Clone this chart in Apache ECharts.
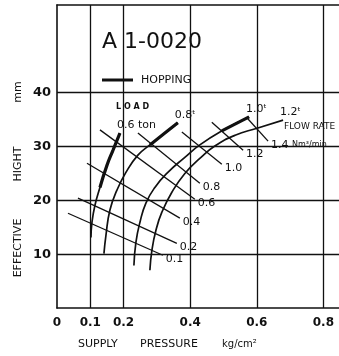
<!DOCTYPE html>
<html>
<head>
<meta charset="utf-8">
<script src="https://cdn.jsdelivr.net/npm/echarts@6/dist/echarts.min.js"></script>
<style>
  html, body { margin: 0; padding: 0; background: #fff; }
  #chart { width: 339px; height: 356px; }
</style>
</head>
<body>
<div id="chart"></div>
<script>
// axis ticks / grid lines
const xTickLabels = [0, 0.1, 0.2, 0.4, 0.6, 0.8]
const yTickLabels = [10, 20, 30, 40]
const xGridLines = [0.1, 0.2, 0.4, 0.6, 0.8]
const yGridLines = [10, 20, 30, 40]

// load curves (supply pressure, effective height), bottom -> top
const loadNames = ['0.6 ton', '0.8ᵗ', '1.0ᵗ', '1.2ᵗ']
const load06 = [[0.102, 13.1], [0.105, 15.9], [0.114, 19.1], [0.129, 22.4], [0.150, 26.5], [0.168, 29.3], [0.189, 32.5]]
const load08 = [[0.141, 10.1], [0.147, 13.5], [0.159, 18.2], [0.180, 21.9], [0.207, 25.2], [0.243, 28.4], [0.279, 30.3], [0.324, 32.5], [0.363, 34.4]]
const load10 = [[0.231, 7.9], [0.237, 12.2], [0.249, 15.9], [0.267, 19.5], [0.294, 22.4], [0.333, 25.2], [0.384, 28.0], [0.429, 30.3], [0.495, 32.9], [0.577, 35.5]]
const load12 = [[0.279, 7.0], [0.285, 10.7], [0.297, 14.4], [0.315, 17.8], [0.345, 21.5], [0.384, 25.0], [0.429, 27.8], [0.474, 30.1], [0.535, 32.1], [0.601, 33.4], [0.679, 34.9]]
// index on each load curve where hopping starts (to the top end)
const hoppingFrom = [3, 6, 8, null]

// flow rate lines Nm3/min
const flowNames = ['0.1', '0.2', '0.4', '0.6', '0.8', '1.0', '1.2', '1.4 Nm³/min']
const flow01 = [[0.033, 17.6], [0.318, 9.8]]
const flow02 = [[0.063, 20.4], [0.360, 12.0]]
const flow04 = [[0.090, 26.9], [0.369, 16.7]]
const flow06 = [[0.129, 33.1], [0.414, 20.2]]
const flow08 = [[0.243, 32.5], [0.429, 23.2]]
const flow10 = [[0.375, 32.7], [0.495, 26.7]]
const flow12 = [[0.465, 34.5], [0.559, 29.3]]
const flow14 = [[0.571, 35.3], [0.634, 31.0]]

const loads = [load06, load08, load10, load12]
const flows = [flow01, flow02, flow04, flow06, flow08, flow10, flow12, flow14]

const FONT = 'DejaVu Sans'
const INK = '#111'

const chart = echarts.init(document.getElementById('chart'))

const series = []

// grid lines
series.push({
  type: 'line',
  data: [],
  silent: true,
  markLine: {
    silent: true,
    symbol: 'none',
    label: { show: false },
    lineStyle: { color: INK, width: 1.3, type: 'solid' },
    data: [
      ...xGridLines.map((v) => ({ xAxis: v })),
      ...yGridLines.map((v) => ({ yAxis: v })),
    ],
  },
})

loads.forEach((pts, i) => {
  series.push({
    name: loadNames[i],
    type: 'line',
    data: pts,
    smooth: true,
    showSymbol: false,
    lineStyle: { color: INK, width: 1.7 },
    endLabel: {
      show: true,
      formatter: '{a}',
      color: INK,
      fontFamily: FONT,
      fontSize: 11,
      align: 'left',
      distance: 0,
      offset: [-3, -8],
    },
  })
  if (hoppingFrom[i] != null) {
    series.push({
      type: 'line',
      data: pts.slice(hoppingFrom[i]),
      smooth: true,
      showSymbol: false,
      lineStyle: { color: INK, width: 3.2 },
    })
  }
})

flows.forEach((pts, i) => {
  series.push({
    name: flowNames[i],
    type: 'line',
    data: pts,
    showSymbol: false,
    lineStyle: { color: INK, width: 1.3 },
    endLabel: {
      show: true,
      formatter: (p) => {
        const [v, ...unit] = p.seriesName.split(' ')
        return unit.length ? v + ' {u|' + unit.join(' ') + '}' : v
      },
      color: INK,
      fontFamily: FONT,
      fontSize: 11,
      distance: 3,
      offset: [0, 4],
      rich: { u: { fontFamily: FONT, fontSize: 8, color: INK } },
    },
  })
})

const option = {
  backgroundColor: '#fff',
  animation: false,
  grid: { left: 57, top: 5, right: 0, bottom: 48 },
  xAxis: [
    {
      type: 'value',
      min: 0,
      max: 0.847,
      interval: 0.1,
      axisLine: { show: true, lineStyle: { color: INK, width: 1.6 } },
      axisTick: { show: false },
      splitLine: { show: false },
      axisLabel: {
        color: INK,
        fontFamily: FONT,
        fontSize: 12,
        fontWeight: 'bold',
        margin: 9,
        formatter: (v) => {
          const s = +v.toFixed(1)
          return xTickLabels.includes(s) ? (s === 0 ? '0' : s.toFixed(1)) : ''
        },
      },
    },
    {
      type: 'value',
      position: 'top',
      min: 0,
      max: 0.847,
      axisLine: { show: true, lineStyle: { color: INK, width: 1.6 } },
      axisTick: { show: false },
      axisLabel: { show: false },
      splitLine: { show: false },
    },
  ],
  yAxis: {
    type: 'value',
    min: 0,
    max: 56.3,
    interval: 10,
    axisLine: { show: true, lineStyle: { color: INK, width: 1.6 } },
    axisTick: { show: false },
    splitLine: { show: false },
    axisLabel: {
      color: INK,
      fontFamily: FONT,
      fontSize: 13,
      fontWeight: 'bold',
      margin: 6,
      formatter: (v) => (yTickLabels.includes(Math.round(v)) && Math.abs(v - Math.round(v)) < 1e-6 ? String(v) : ''),
    },
  },
  graphic: [
    { type: 'text', left: 102, top: 31, style: { text: 'A 1-0020', font: '22px "DejaVu Sans"', fill: INK } },
    { type: 'line', shape: { x1: 102, y1: 80, x2: 133, y2: 80 }, style: { stroke: INK, lineWidth: 3 } },
    { type: 'text', left: 141, top: 75, style: { text: 'HOPPING', font: '11px "DejaVu Sans"', fill: INK } },
    { type: 'text', left: 116, top: 103, style: { text: 'L O A D', font: 'bold 8px "DejaVu Sans"', fill: INK } },
    { type: 'text', left: 284, top: 122, style: { text: 'FLOW RATE', font: '9px "DejaVu Sans"', fill: INK } },
    { type: 'text', left: 78, top: 339, style: { text: 'SUPPLY', font: '11px "DejaVu Sans"', fill: INK } },
    { type: 'text', left: 140, top: 339, style: { text: 'PRESSURE', font: '11px "DejaVu Sans"', fill: INK } },
    { type: 'text', left: 222, top: 339, style: { text: 'kg/cm²', font: '10px "DejaVu Sans"', fill: INK } },
    {
      type: 'text', x: 18, y: 248, rotation: Math.PI / 2,
      style: { text: 'EFFECTIVE', font: '11px "DejaVu Sans"', fill: INK, align: 'center', verticalAlign: 'middle' },
    },
    {
      type: 'text', x: 18, y: 164, rotation: Math.PI / 2,
      style: { text: 'HIGHT', font: '11px "DejaVu Sans"', fill: INK, align: 'center', verticalAlign: 'middle' },
    },
    {
      type: 'text', x: 18, y: 92, rotation: Math.PI / 2,
      style: { text: 'mm', font: '11px "DejaVu Sans"', fill: INK, align: 'center', verticalAlign: 'middle' },
    },
  ],
  series,
}

chart.setOption(option)
</script>
</body>
</html>
